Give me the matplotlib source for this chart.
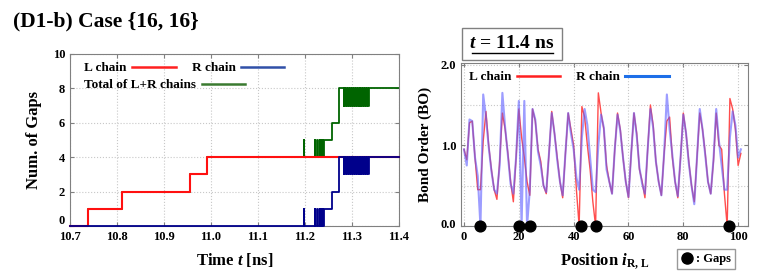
import numpy as np
import matplotlib
matplotlib.use("Agg")
import matplotlib.pyplot as plt
import matplotlib.transforms as mtransforms
from matplotlib.lines import Line2D

plt.rcParams['font.family'] = ['Liberation Serif', 'DejaVu Serif']
plt.rcParams['font.weight'] = 'bold'
plt.rcParams['mathtext.fontset'] = 'custom'
plt.rcParams['mathtext.it'] = 'Liberation Serif:italic:bold'
plt.rcParams['mathtext.rm'] = 'Liberation Serif:bold'

# left panel: number of gaps vs time (step data)
l_time = [10.700, 10.739, 10.810, 10.955, 10.992, 11.400]
l_gaps = [0, 1, 2, 3, 4, 4]

r_time = [10.700, 11.1970, 11.1975, 11.2205, 11.2210, 11.2265, 11.2270, 11.2315,
          11.2320, 11.2340, 11.2355, 11.2370, 11.2385, 11.2410, 11.257, 11.272,
          11.282, 11.284, 11.286, 11.288, 11.290, 11.292, 11.294, 11.296,
          11.298, 11.300, 11.302, 11.304, 11.306, 11.308, 11.310, 11.312,
          11.314, 11.316, 11.318, 11.320, 11.322, 11.324, 11.326, 11.328,
          11.330, 11.332, 11.334, 11.336, 11.400]
r_gaps = [0, 1, 0, 1, 0, 1, 0, 1,
          0, 1, 0, 1, 0, 1, 2, 4,
          3, 4, 3, 4, 3, 4, 3, 4,
          3, 4, 3, 4, 3, 4, 3, 4,
          3, 4, 3, 4, 3, 4, 3, 4,
          3, 4, 3, 4, 4]

# right panel: bond order along the chain at t = 11.4 ns
bo_l = [0.95, 0.82, 1.28, 1.30, 0.85, 0.45, 0.45, 1.05, 1.42, 1.00,
        0.70, 0.45, 0.33, 0.80, 1.40, 1.20, 0.90, 0.55, 0.30, 0.85,
        1.45, 1.10, 0.85, 0.55, 0.38, 1.45, 1.30, 0.95, 0.80, 0.50,
        0.40, 0.90, 1.42, 1.15, 0.85, 0.55, 0.35, 0.90, 1.40, 1.20,
        1.00, 0.45, 0.00, 1.48, 1.35, 1.00, 0.70, 0.30, 0.00, 1.65,
        1.40, 1.20, 0.75, 0.55, 0.40, 0.95, 1.40, 1.20, 0.85, 0.55,
        0.35, 0.90, 1.40, 1.15, 0.70, 0.55, 0.35, 0.95, 1.50, 1.25,
        0.80, 0.55, 0.38, 0.90, 1.30, 1.35, 0.85, 0.55, 0.35, 0.85,
        1.40, 1.15, 0.80, 0.50, 0.30, 0.85, 1.40, 1.20, 0.90, 0.55,
        0.40, 0.80, 1.40, 1.00, 0.95, 0.40, 0.00, 1.58, 1.45, 1.20,
        0.75, 0.90]
bo_r = [0.95, 0.75, 1.32, 1.30, 0.85, 0.62, 0.00, 1.63, 1.35, 0.98,
        0.68, 0.45, 0.40, 0.75, 1.65, 1.22, 0.88, 0.52, 0.40, 0.85,
        1.55, 0.00, 1.55, 0.00, 0.45, 1.45, 1.32, 0.92, 0.75, 0.50,
        0.42, 0.90, 1.40, 1.15, 0.82, 0.55, 0.38, 0.90, 1.40, 1.15,
        0.95, 0.60, 0.45, 1.10, 1.45, 1.25, 0.85, 0.45, 0.42, 1.00,
        1.38, 1.22, 0.70, 0.55, 0.40, 0.95, 1.38, 1.18, 0.85, 0.55,
        0.36, 0.90, 1.40, 1.12, 0.72, 0.52, 0.40, 0.95, 1.45, 1.22,
        0.80, 0.55, 0.38, 0.90, 1.63, 1.20, 0.88, 0.55, 0.37, 0.85,
        1.38, 1.15, 0.78, 0.50, 0.27, 0.85, 1.45, 1.20, 0.88, 0.55,
        0.40, 0.82, 1.45, 1.05, 0.75, 0.45, 0.45, 1.10, 1.42, 1.25,
        0.85, 0.95]
gap_pos = [5.9, 20.2, 24.1, 42.7, 48.1, 96.5]


def step_value(times, vals, t):
    idx = np.searchsorted(times, t, side='right') - 1
    return np.array(vals)[idx]


fig = plt.figure(figsize=(7.63, 2.77), dpi=100)

spine_col = '#808080'
grid_kw = dict(color='#c8c8c8', linestyle=':', linewidth=0.8)

# ---- left panel ----
ax1 = fig.add_axes([70 / 763, 51 / 277, 329 / 763, 172 / 277])
all_t = np.union1d(l_time, r_time)
tot = step_value(l_time, l_gaps, all_t) + step_value(r_time, r_gaps, all_t)
ax1.step(all_t, tot, where='post', color='#006400', lw=1.3, clip_on=False, zorder=2)
ax1.step(l_time, l_gaps, where='post', color='#ff1010', lw=1.5, clip_on=False, zorder=3)
ax1.step(r_time, r_gaps, where='post', color='#00008b', lw=1.3, clip_on=False, zorder=4)
ax1.set_xlim(10.7, 11.4)
ax1.set_ylim(0, 10)
ax1.set_xticks(np.round(np.arange(10.7, 11.41, 0.1), 1))
ax1.set_xticklabels(['10.7', '10.8', '10.9', '11.0', '11.1', '11.2', '11.3', '11.4'])
ax1.set_yticks([0, 2, 4, 6, 8, 10])
ax1.grid(True, **grid_kw)
ax1.set_xlabel('Time $t$ [ns]', fontsize=12, fontweight='bold', labelpad=6)
ax1.set_ylabel('Num. of Gaps', fontsize=12, fontweight='bold', labelpad=8)

h_l = Line2D([], [], color='#ff2020', lw=1.8)
h_r = Line2D([], [], color='#3050a8', lw=1.8)
h_t = Line2D([], [], color='#3a7a30', lw=1.8)
leg1 = ax1.legend([h_l, h_r], ['L chain', 'R chain'], ncol=2, loc='upper left',
                  bbox_to_anchor=(0.02, 1.0), frameon=False, markerfirst=False,
                  handlelength=3.3, handletextpad=0.4, columnspacing=1.2,
                  prop=dict(size=9.5, weight='bold'), borderaxespad=0.2)
ax1.add_artist(leg1)
ax1.legend([h_t], ['Total of L+R chains'], loc='upper left',
           bbox_to_anchor=(0.02, 0.90), frameon=False, markerfirst=False,
           handlelength=3.3, handletextpad=0.4,
           prop=dict(size=9.5, weight='bold'), borderaxespad=0.2)

# ---- right panel ----
ax2 = fig.add_axes([461 / 763, 51 / 277, 287 / 763, 163 / 277])
pos = np.arange(len(bo_l))
ax2.plot(pos, bo_l, color='#ff4d4d', lw=1.0, zorder=2)
ax2.plot(pos, bo_r, color='#5c5cff', lw=1.5, alpha=0.6, zorder=3)
ax2.scatter(gap_pos, np.zeros(len(gap_pos)), s=60, color='black', zorder=5,
            clip_on=False)
ax2.set_xlim(-1.1, 103.6)
ax2.set_ylim(0, 2.02)
ax2.set_xticks([0, 20, 40, 60, 80, 100])
ax2.set_yticks([0, 1, 2])
ax2.set_yticklabels(['0.0', '1.0', '2.0'])
ax2.set_yticks([0.5, 1.5], minor=True)
ax2.grid(True, which='both', **grid_kw)
ax2.set_xlabel('Position $i_{\\mathrm{R,\\,L}}$', fontsize=12, fontweight='bold', labelpad=6)
ax2.set_ylabel('Bond Order (BO)', fontsize=11, fontweight='bold', labelpad=6)

h_l2 = Line2D([], [], color='#ff2020', lw=1.8)
h_r2 = Line2D([], [], color='#1e6fe8', lw=2.2)
ax2.legend([h_l2, h_r2], ['L chain', 'R chain'], ncol=2, loc='upper left',
           bbox_to_anchor=(0.0, 1.0), frameon=False, markerfirst=False,
           handlelength=3.3, handletextpad=0.4, columnspacing=1.2,
           prop=dict(size=9.5, weight='bold'), borderaxespad=0.2)

for ax in (ax1, ax2):
    for sp in ax.spines.values():
        sp.set_color(spine_col)
    ax.tick_params(which='both', direction='in', top=True, right=True, length=3,
                   color=spine_col, labelsize=9)
    ax.tick_params(which='minor', length=0)
    for lab in ax.get_xticklabels() + ax.get_yticklabels():
        lab.set_fontweight('bold')

# the lowest y label sits a little above the axis line, as in the original
for ax, dy in ((ax1, 7), (ax2, 3)):
    lab0 = ax.get_yticklabels()[0]
    lab0.set_transform(lab0.get_transform() +
                       mtransforms.ScaledTranslation(0, dy / 100, fig.dpi_scale_trans))

# title and annotations
fig.text(13 / 763, 1 - 21 / 277, '(D1-b) Case {16, 16}', fontsize=15.5,
         fontweight='bold', ha='left', va='center')

fig.text(512 / 763, 1 - 44 / 277, '$t$ = 11.4 ns', fontsize=14, fontweight='bold',
         ha='center', va='center',
         bbox=dict(boxstyle='square,pad=0.38', fc='white', ec=spine_col, lw=1.0))
fig.add_artist(Line2D([472 / 763, 553 / 763], [1 - 53 / 277, 1 - 53 / 277],
                      color='black', lw=1.0, transform=fig.transFigure, zorder=10))

gap_h = Line2D([], [], marker='o', color='black', linestyle='none', markersize=8)
fig.legend([gap_h], [': Gaps'], loc='center', bbox_to_anchor=(706 / 763, 1 - 259 / 277),
           frameon=True, fancybox=False, edgecolor=spine_col, handletextpad=0.2,
           handlelength=1.0, borderpad=0.3, prop=dict(size=9, weight='bold'))

fig.savefig('out.png', dpi=100)
